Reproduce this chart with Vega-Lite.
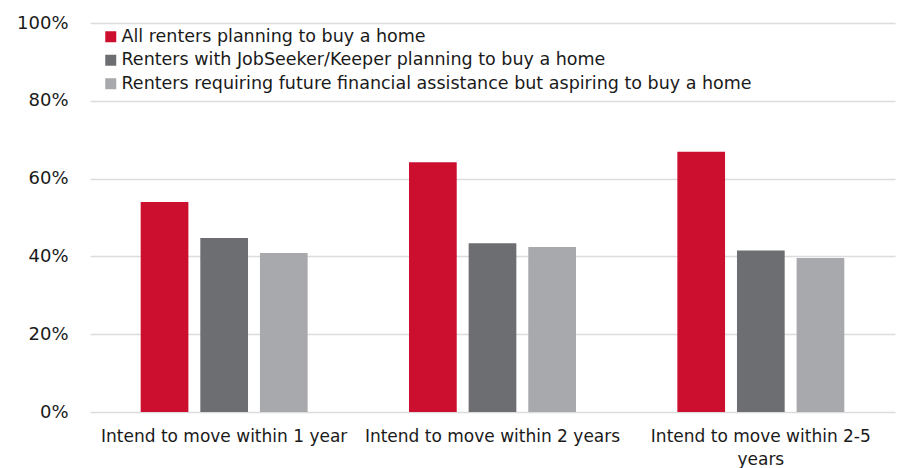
{
  "$schema": "https://vega.github.io/schema/vega-lite/v6.json",
  "width": 805,
  "height": 389,
  "autosize": {"type": "none"},
  "padding": {"left": 90, "top": 23, "right": 4, "bottom": 56},
  "background": "white",
  "config": {
    "font": "DejaVu Sans",
    "view": {"stroke": null},
    "axis": {"labelFont": "DejaVu Sans", "labelColor": "#1a1a1a"},
    "legend": {"labelFont": "DejaVu Sans"}
  },
  "data": {
    "values": [
      {"group": "Intend to move within 1 year", "series": "All renters planning to buy a home", "value": 0.540},
      {"group": "Intend to move within 1 year", "series": "Renters with JobSeeker/Keeper planning to buy a home", "value": 0.447},
      {"group": "Intend to move within 1 year", "series": "Renters requiring future financial assistance but aspiring to buy a home", "value": 0.409},
      {"group": "Intend to move within 2 years", "series": "All renters planning to buy a home", "value": 0.642},
      {"group": "Intend to move within 2 years", "series": "Renters with JobSeeker/Keeper planning to buy a home", "value": 0.434},
      {"group": "Intend to move within 2 years", "series": "Renters requiring future financial assistance but aspiring to buy a home", "value": 0.424},
      {"group": "Intend to move within 2-5 years", "series": "All renters planning to buy a home", "value": 0.669},
      {"group": "Intend to move within 2-5 years", "series": "Renters with JobSeeker/Keeper planning to buy a home", "value": 0.415},
      {"group": "Intend to move within 2-5 years", "series": "Renters requiring future financial assistance but aspiring to buy a home", "value": 0.396}
    ]
  },
  "mark": {"type": "bar"},
  "encoding": {
    "x": {
      "field": "group",
      "type": "nominal",
      "sort": null,
      "title": null,
      "scale": {"paddingInner": 0, "paddingOuter": 0},
      "axis": {
        "labelAngle": 0,
        "labelFontSize": 17,
        "labelPadding": 16,
        "ticks": false,
        "domain": false,
        "labelLimit": 300,
        "labelLineHeight": 23,
        "labelExpr": "datum.label == 'Intend to move within 2-5 years' ? ['Intend to move within 2-5', 'years'] : datum.label"
      }
    },
    "xOffset": {
      "field": "series",
      "type": "nominal",
      "sort": null,
      "scale": {"paddingInner": 0.2, "paddingOuter": 0.85}
    },
    "y": {
      "field": "value",
      "type": "quantitative",
      "title": null,
      "scale": {"domain": [0, 1]},
      "axis": {
        "format": ".0%",
        "values": [0, 0.2, 0.4, 0.6, 0.8, 1],
        "labelFontSize": 18,
        "labelPadding": 22,
        "ticks": false,
        "domain": false,
        "gridColor": "#dcdcdc",
        "gridWidth": 1.5
      }
    },
    "color": {
      "field": "series",
      "type": "nominal",
      "sort": null,
      "title": null,
      "scale": {"range": ["#CC0F2E", "#6D6E72", "#A8A9AC"]},
      "legend": {
        "orient": "none",
        "legendX": 12,
        "legendY": 5,
        "symbolType": "square",
        "symbolSize": 121,
        "symbolStrokeWidth": 0,
        "labelFontSize": 17.5,
        "labelColor": "#1a1a1a",
        "labelOffset": 2,
        "rowPadding": 4.5,
        "labelLimit": 700
      }
    }
  }
}
